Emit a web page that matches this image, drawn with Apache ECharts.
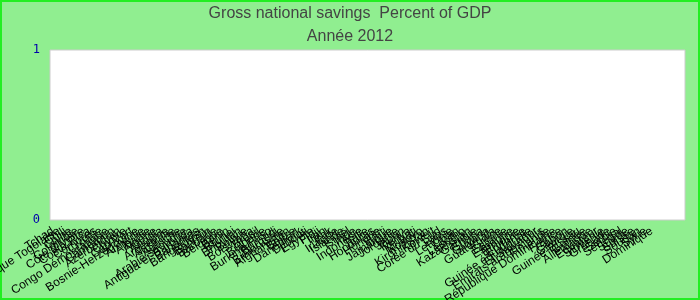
<!DOCTYPE html>
<html>
<head>
<meta charset="utf-8">
<script src="https://cdn.jsdelivr.net/npm/echarts@6/dist/echarts.min.js"></script>
<style>
html,body{margin:0;padding:0;background:#90EE90;}
#chart{width:700px;height:300px;}
</style>
</head>
<body>
<div id="chart"></div>
<script>
var titleText = "Gross national savings  Percent of GDP";
var subtitleText = "Année 2012";
var countries = [
"Tchad","République Togolaise","Chili","Chine","Colombie","Côte d'Ivoire","Costa Rica","Comores","Croatie","Congo Démocratique",
"Cameroun","Azerbaïdjan","Chypre","Cap-Vert","Bosnie-Herzégovine","Arménie","Albanie","Algérie","Angola","Argentine",
"Australie","Autriche","Arabie saoudite","Antigua-et-Barbuda","Bahamas","Bangladesh","Bahreïn","Barbade","Belgique","Bénin",
"Brunei","Bhoutan","Bolivie","Botswana","Brésil","Bulgarie","Burkina Faso","Burundi","Biélorussie","Afghanistan",
"Belize","Danemark","Djibouti","Égypte","Fidji","Iran","Irak","Irlande","Islande","Israël",
"Inde","Indonésie","Italie","Honduras","Hongrie","Haïti","Jamaïque","Jordanie","Japon","Kenya",
"Kiribati","Kosovo","Kirghizistan","Koweït","Corée du Sud","Laos","Lettonie","Liban","Lesotho","Kazakhstan",
"Gambie","Ghana","Guyana","Guatemala","Grèce","Estonie","Espagne","Éthiopie","Érythrée","Guinée équatoriale",
"El Salvador","Émirats arabes unis","Finlande","République Dominicaine","France","Gabon","Géorgie","Guinée-Bissau","Guinée","Allemagne",
"Équateur","Slovénie","Grenade","Serbie","Sénégal","Suède","Suisse","Soudan","Syrie","Dominique"
];
var savings = countries.map(function(){ return 0; });
var yTicks = [0, 1];

var chart = echarts.init(document.getElementById('chart'), null, {renderer:'canvas'});
chart.setOption({
  backgroundColor: '#90EE90',
  animation: false,
  title: {
    text: titleText + "\n" + subtitleText,
    left: 'center',
    top: -3,
    textStyle: {fontFamily: 'Liberation Sans', fontSize: 16, fontWeight: 'normal', color: '#444', lineHeight: 23}
  },
  graphic: [{
    type: 'rect', silent: true,
    shape: {x: 1, y: 1, width: 698, height: 298},
    style: {fill: 'none', stroke: '#22ee22', lineWidth: 2}
  }],
  grid: {
    left: 50, right: 15, top: 50, bottom: 80,
    containLabel: false, outerBoundsMode: 'none',
    show: true, backgroundColor: '#ffffff', borderColor: '#cccccc', borderWidth: 1
  },
  xAxis: {
    type: 'category',
    data: countries,
    max: countries.length - 1 + 5,
    axisLine: {show: false},
    axisTick: {show: false},
    axisLabel: {
      interval: 0, rotate: 33, margin: 10,
      fontFamily: 'Liberation Sans', fontSize: 12, color: '#000'
    }
  },
  yAxis: {
    type: 'value',
    min: yTicks[0], max: yTicks[yTicks.length - 1], interval: 1,
    axisLine: {show: false},
    axisTick: {show: false},
    splitLine: {show: false},
    axisLabel: {fontFamily: 'DejaVu Sans Mono', fontSize: 12, color: '#0000aa', margin: 10, padding: [5, 0, 0, 0]}
  },
  series: [{
    type: 'bar',
    data: savings,
    itemStyle: {color: '#4472c4'}
  }]
});
</script>
</body>
</html>
